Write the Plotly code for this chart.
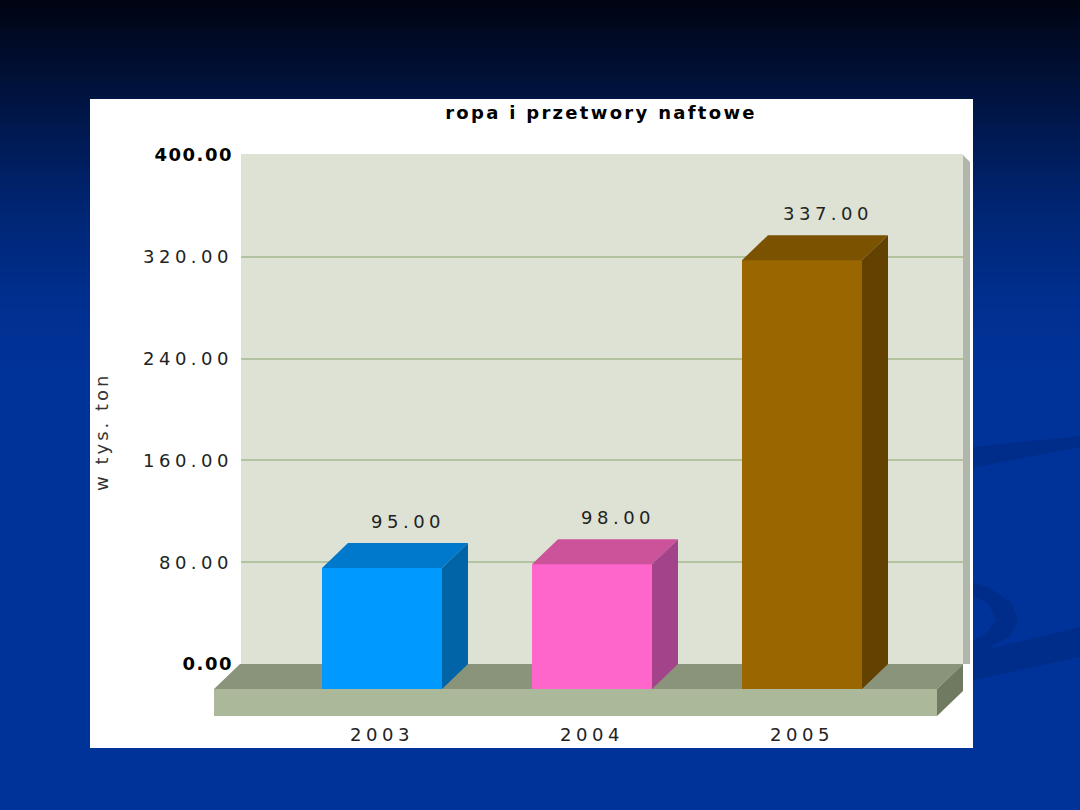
import plotly.graph_objects as go

# ---- data ----
years = ["2003", "2004", "2005"]
values = [95.0, 98.0, 337.0]
front_colors = ["#0099FF", "#FF66CC", "#996600"]
top_colors = ["#0078CC", "#CC5299", "#7A5200"]
side_colors = ["#0064A6", "#A3448A", "#634100"]
y_ticks = [0, 80, 160, 240, 320, 400]
chart_title = "ropa i przetwory naftowe"
y_title = "w tys. ton"

# ---- page geometry (pixels) ----
W, H = 1080, 810
PANEL = (90, 99, 973, 748)                 # white chart panel: l, t, r, b
WALL_L, WALL_R, WALL_T, WALL_B = 241, 963, 155, 664
Y_MAX = 400.0
PX_PER_UNIT = (WALL_B - WALL_T) / Y_MAX
DRAW_L, DRAW_R, DRAW_T, DRAW_B = 200, 985, 140, 716
SLOT_PX = 210.0                             # distance between bar centres
FIRST_CX = 382.0                            # front-face centre of first bar
DEPTH_X = 26 / SLOT_PX                      # 3D depth in x units
DEPTH_Y = 25 / PX_PER_UNIT                  # 3D depth in y units
BAR_W = 120 / SLOT_PX
FLOOR_T = 27 / PX_PER_UNIT                  # floor slab thickness
FLOOR_LEFT = -168 / SLOT_PX                 # floor overhang left of first bar
FLOOR_RIGHT = 135 / SLOT_PX                 # floor overhang right of last bar
STRIP_W = 7 / SLOT_PX                       # wall side thickness


def px_x(p):
    return p / W


def px_y(p):
    return 1 - p / H


def spaced(text, sp):
    return f'<span style="letter-spacing:{sp}px">{text}</span>'


FONT = "DejaVu Sans"
fig = go.Figure()

# ---- slide background: vertical gradient + swooshes + white panel ----
shapes = []
stops = [(0, (0, 4, 18)), (100, (0, 20, 66)), (200, (0, 36, 112)),
         (300, (0, 47, 143)), (380, (0, 51, 153))]
shapes.append(dict(type="rect", xref="paper", yref="paper", x0=0, x1=1,
                   y0=0, y1=1, fillcolor="rgb(0,51,153)", line_width=0,
                   layer="below"))
step = 3
for y0 in range(0, 380, step):
    yc = y0 + step / 2
    for (a, ca), (b, cb) in zip(stops[:-1], stops[1:]):
        if a <= yc <= b:
            t = (yc - a) / (b - a)
            c = tuple(round(ca[k] + (cb[k] - ca[k]) * t) for k in range(3))
            break
    shapes.append(dict(type="rect", xref="paper", yref="paper",
                       x0=0, x1=1, y0=px_y(y0 + step + 0.5), y1=px_y(y0),
                       fillcolor=f"rgb{c}", line_width=0, layer="below"))


def paper_path(pts):
    return "M " + " L ".join(f"{px_x(x):.5f},{px_y(y):.5f}" for x, y in pts) + " Z"


swoosh = "rgb(0,44,138)"
shapes.append(dict(type="path", xref="paper", yref="paper", layer="below",
                   path=paper_path([(960, 448), (1080, 436), (1080, 447), (960, 470)]),
                   fillcolor=swoosh, line_width=0))
shapes.append(dict(type="path", xref="paper", yref="paper", layer="below",
                   path=paper_path([(960, 578), (990, 588), (1012, 603), (1018, 620),
                                    (1010, 636), (985, 650), (960, 656), (960, 645),
                                    (985, 635), (996, 620), (988, 603), (960, 590)]),
                   fillcolor=swoosh, line_width=0))
shapes.append(dict(type="path", xref="paper", yref="paper", layer="below",
                   path=paper_path([(960, 656), (1080, 627), (1080, 657), (960, 683)]),
                   fillcolor=swoosh, line_width=0))
shapes.append(dict(type="rect", xref="paper", yref="paper", layer="below",
                   x0=px_x(PANEL[0]), x1=px_x(PANEL[2]),
                   y0=px_y(PANEL[3]), y1=px_y(PANEL[1]),
                   fillcolor="white", line_width=0))
# back wall of the chart
shapes.append(dict(type="rect", xref="x domain", yref="y domain", layer="below",
                   x0=0, x1=1, y0=0, y1=1, fillcolor="#DDE2D5", line_width=0))

# empty trace so the wall subplot (gridlines + value axis) is built
fig.add_trace(go.Scatter(x=[None], y=[None], mode="markers", hoverinfo="skip",
                         showlegend=False, xaxis="x", yaxis="y"))

# ---- floor slab and wall side (x2/y2) ----
n = len(years)
fl = FLOOR_LEFT
fr = (n - 1) + FLOOR_RIGHT
wall_x = fr + DEPTH_X


def poly(xs, ys, color, xa, ya):
    fig.add_trace(go.Scatter(x=xs + [xs[0]], y=ys + [ys[0]], mode="lines",
                             fill="toself", fillcolor=color, line=dict(width=0),
                             hoverinfo="skip", showlegend=False,
                             xaxis=xa, yaxis=ya))


poly([wall_x, wall_x, wall_x + STRIP_W, wall_x + STRIP_W],
     [0, Y_MAX, Y_MAX - 7 / PX_PER_UNIT, 0], "#B1B6AA", "x2", "y2")
poly([fl, fr, fr + DEPTH_X, fl + DEPTH_X],
     [-DEPTH_Y, -DEPTH_Y, 0, 0], "#89947A", "x2", "y2")
poly([fl, fr, fr, fl],
     [-DEPTH_Y, -DEPTH_Y, -DEPTH_Y - FLOOR_T, -DEPTH_Y - FLOOR_T], "#ABB99A", "x2", "y2")
poly([fr, fr + DEPTH_X, fr + DEPTH_X, fr],
     [-DEPTH_Y, 0, -FLOOR_T, -DEPTH_Y - FLOOR_T], "#6F7A60", "x2", "y2")

# ---- bars (x3/y3): front faces as bars, top and side faces as polygons ----
xs = list(range(n))
fig.add_trace(go.Bar(x=xs, y=values, base=[-DEPTH_Y] * n, width=BAR_W,
                     marker=dict(color=front_colors, line=dict(width=0)),
                     hoverinfo="skip", showlegend=False, xaxis="x3", yaxis="y3"))
for i, v in enumerate(values):
    l, r = i - BAR_W / 2, i + BAR_W / 2
    poly([l, r, r + DEPTH_X, l + DEPTH_X],
         [v - DEPTH_Y, v - DEPTH_Y, v, v], top_colors[i], "x3", "y3")
    poly([r, r, r + DEPTH_X, r + DEPTH_X],
         [-DEPTH_Y, v - DEPTH_Y, v, 0], side_colors[i], "x3", "y3")

# ---- value labels ----
annotations = []
for i, v in enumerate(values):
    annotations.append(dict(x=i + DEPTH_X, y=v, xref="x3", yref="y3",
                            text=spaced(f"{v:.2f}", 4.5), showarrow=False,
                            xanchor="center", yanchor="bottom", yshift=9,
                            font=dict(family=FONT, size=18, color="#222222")))
annotations.append(dict(x=px_x(101), y=px_y(432), xref="paper", yref="paper",
                        text=spaced(y_title, 3), textangle=-90, showarrow=False,
                        xanchor="center", yanchor="middle",
                        font=dict(family=FONT, size=18, color="#333333")))

# ---- tick texts ----
y_ticktext = []
for k, t in enumerate(y_ticks):
    if k in (0, len(y_ticks) - 1):
        y_ticktext.append(f'<span style="letter-spacing:1.5px;fill:#000000"><b>{t:.2f}</b></span>')
    else:
        y_ticktext.append(spaced(f"{t:.2f}", 4.5))
x_ticktext = [spaced(y, 4.5) for y in years]

# axis ranges for the 3D drawing area share the wall's unit scale
x_rng = [(DRAW_L - FIRST_CX) / SLOT_PX, (DRAW_R - FIRST_CX) / SLOT_PX]
y_rng = [-(DRAW_B - WALL_B) / PX_PER_UNIT, (WALL_B - DRAW_T) / PX_PER_UNIT]
dom_x = [px_x(DRAW_L), px_x(DRAW_R)]
dom_y = [px_y(DRAW_B), px_y(DRAW_T)]

fig.update_layout(
    width=W, height=H,
    margin=dict(l=0, r=0, t=0, b=0, pad=0, autoexpand=False),
    paper_bgcolor="rgb(0,51,153)",
    plot_bgcolor="rgba(0,0,0,0)",
    font=dict(family=FONT, color="#222222"),
    title=dict(text=spaced(chart_title, 2.3), x=px_x(601), y=px_y(113),
               xanchor="center", yanchor="middle", automargin=False,
               font=dict(family=FONT, size=18, color="#000000", weight="bold")),
    shapes=shapes,
    annotations=annotations,
    showlegend=False,
    bargap=0,
    xaxis=dict(domain=[px_x(WALL_L), px_x(WALL_R)], range=[0, 1],
               showticklabels=False, ticks="", showgrid=False, zeroline=False,
               showline=True, mirror=True, linecolor="#DDE2D5", linewidth=1,
               automargin=False, fixedrange=True),
    yaxis=dict(domain=[px_y(WALL_B), px_y(WALL_T)], range=[0, Y_MAX],
               tickvals=y_ticks, ticktext=y_ticktext, ticks="",
               ticklabelstandoff=7,
               tickfont=dict(family=FONT, size=18, color="#222222"),
               showgrid=True, gridcolor="#B3C29F", gridwidth=2,
               zeroline=False, showline=False, automargin=False, fixedrange=True),
    xaxis2=dict(domain=dom_x, range=x_rng, anchor="y2",
                tickvals=xs, ticktext=x_ticktext, ticks="",
                ticklabelstandoff=6,
                tickfont=dict(family=FONT, size=18, color="#222222"),
                showgrid=False, zeroline=False, showline=False,
                automargin=False, fixedrange=True),
    yaxis2=dict(domain=dom_y, range=y_rng, anchor="x2", visible=False,
                automargin=False, fixedrange=True),
    xaxis3=dict(domain=dom_x, range=x_rng, anchor="y3", visible=False,
                automargin=False, fixedrange=True),
    yaxis3=dict(domain=dom_y, range=y_rng, anchor="x3", visible=False,
                automargin=False, fixedrange=True),
)

fig.write_html("out.html")
